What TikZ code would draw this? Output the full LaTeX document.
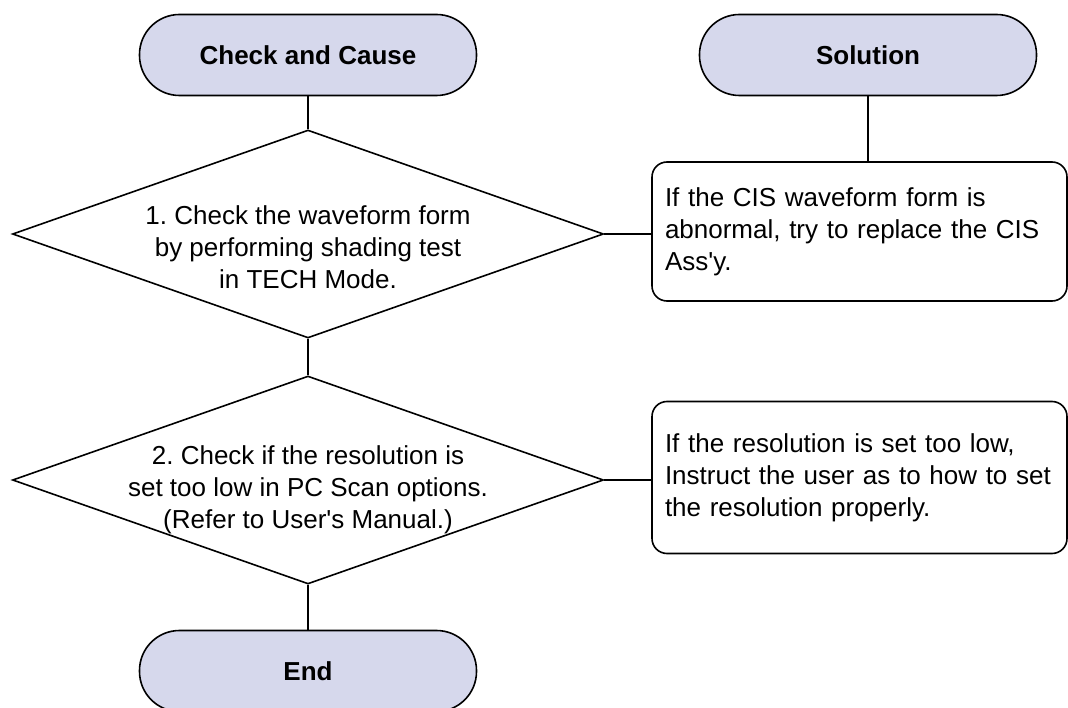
\documentclass[tikz,border=0pt]{standalone}
\usepackage{fontspec}
\setmainfont{Liberation Sans}
\usetikzlibrary{shapes.geometric}
\definecolor{pill}{RGB}{214,216,236}
\frenchspacing
\begin{document}
\begin{tikzpicture}[x=1pt,y=-1pt,line width=1.6pt,font=\fontsize{26}{32}\selectfont,
	term/.style={draw,fill=pill,rounded corners=40pt,minimum width=337pt,minimum height=81pt,inner sep=0pt,font=\fontsize{26}{32}\selectfont\bfseries},
	decision/.style={draw,diamond,minimum width=591pt,minimum height=208pt,inner sep=0pt},
	answer/.style={draw,rounded corners=15pt,align=left,inner xsep=13pt,text width=389pt}]
	\useasboundingbox(0,0)rectangle(1068,708);
	\node[term](cause)at(308,55){Check and Cause};
	\node[term](sol)at(868,55){Solution};
	\node[decision](q1)at(308,234){};
	\node[align=center](q1text)at([yshift=-13pt]q1.center){1. Check the waveform form\\by performing shading test\\in TECH Mode.};
	\node[answer,minimum height=139pt](fix1)at(859.5,231.5){If the CIS waveform form is\\abnormal, try to replace the CIS\\Ass\textquotesingle y.};
	\node[decision](q2)at(308,480){};
	\node[align=center](q2text)at([yshift=-10pt]q2.center){2. Check if the resolution is\\set too low in PC Scan options.\\(Refer to User\textquotesingle s Manual.)};
	\node[answer,minimum height=152pt](fix2)at(859.5,477.5){If the resolution is set too low,\\Instruct the user as to how to set\\the resolution properly.};
	\node[term](end)at(308,671){End};
	\draw(cause)--(q1);
	\draw(q1)--(q2);
	\draw(q2)--(end);
	\draw(sol)--(sol|-fix1.north);
	\draw(q1)--(q1-|fix1.west);
	\draw(q2)--(q2-|fix2.west);
\end{tikzpicture}
\end{document}
